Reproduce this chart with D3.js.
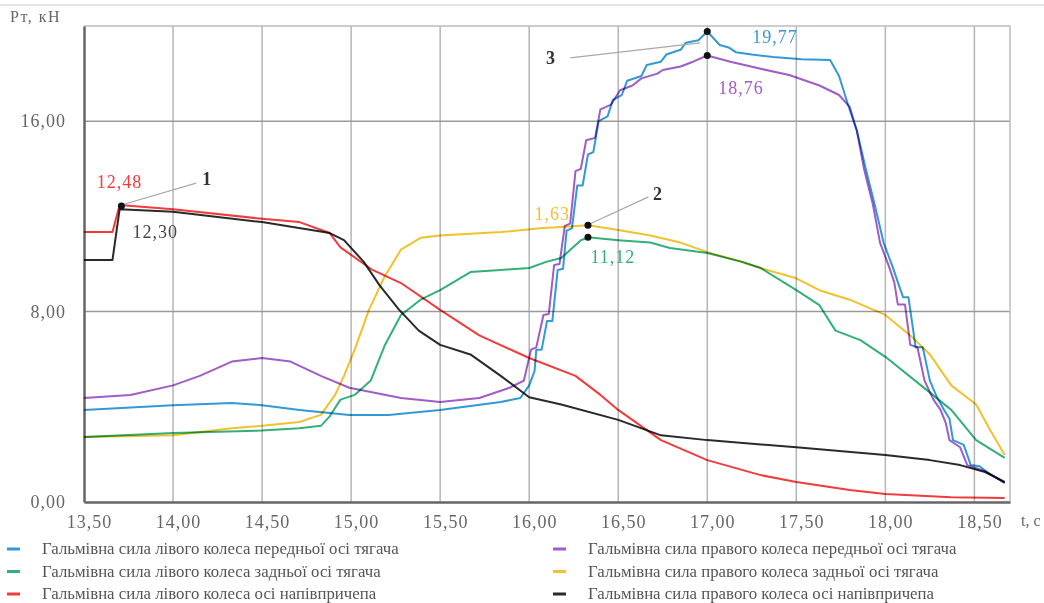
<!DOCTYPE html>
<html>
<head>
<meta charset="utf-8">
<script src="https://cdn.jsdelivr.net/npm/d3@7"></script>
<style>
  body { margin: 0; background: #fff; }
  text { font-family: "Liberation Serif", "DejaVu Serif", serif; }
</style>
</head>
<body>
<div id="chart"></div>
<script>
// braking force data (t in s, Pt in kN)
const blueT = [13.5, 14.0, 14.33, 14.5, 14.71, 14.99, 15.21, 15.5, 15.84, 15.95,
  16.0, 16.03, 16.04, 16.07, 16.1, 16.13, 16.16, 16.19, 16.21, 16.24, 16.27, 16.3, 16.33, 16.36,
  16.39, 16.44, 16.47, 16.52, 16.55, 16.63, 16.66, 16.74, 16.77, 16.85, 16.88, 16.95, 17.0,
  17.07, 17.12, 17.16, 17.25, 17.37, 17.53, 17.69,
  17.74, 17.79, 17.84, 17.89, 17.94, 17.99, 18.04, 18.07, 18.1, 18.13, 18.17, 18.21, 18.25,
  18.29, 18.33, 18.36, 18.38, 18.44, 18.48, 18.53, 18.57, 18.67];
const blueV = [3.87, 4.07, 4.16, 4.07, 3.87, 3.66, 3.66, 3.87, 4.2, 4.37,
  4.9, 5.5, 6.4, 6.4, 7.6, 7.6, 9.75, 9.8, 11.4, 11.5, 13.3, 13.3, 14.6, 14.7,
  16.0, 16.2, 16.9, 17.1, 17.7, 17.9, 18.36, 18.5, 18.8, 19.0, 19.3, 19.4, 19.77,
  19.2, 19.1, 18.9, 18.8, 18.7, 18.6, 18.57,
  17.9, 16.7, 15.6, 14.0, 12.5, 10.9, 9.9, 9.24, 8.6, 8.6, 6.5, 6.5, 5.1,
  4.4, 3.87, 3.5, 2.6, 2.4, 1.55, 1.5, 1.26, 0.8];

const purpleT = [13.5, 13.76, 14.0, 14.15, 14.33, 14.5, 14.66, 14.83, 14.99, 15.28, 15.5, 15.72, 15.89, 15.97,
  16.01, 16.04, 16.08, 16.11, 16.14, 16.17, 16.2, 16.23, 16.26, 16.29, 16.32, 16.37, 16.4, 16.46,
  16.51, 16.58, 16.63, 16.72, 16.75, 16.85, 16.92, 17.0, 17.13, 17.3, 17.46, 17.63, 17.74,
  17.8, 17.84, 17.88, 17.93, 17.97, 18.02, 18.05, 18.07, 18.11, 18.14, 18.18, 18.22, 18.27,
  18.31, 18.34, 18.36, 18.42, 18.46, 18.52, 18.57, 18.67];
const purpleV = [4.37, 4.5, 4.9, 5.3, 5.9, 6.05, 5.9, 5.3, 4.8, 4.37, 4.2, 4.37, 4.8, 5.1,
  6.4, 6.5, 7.86, 7.9, 9.96, 10.0, 11.6, 11.7, 13.9, 14.0, 15.2, 15.3, 16.5, 16.7,
  17.3, 17.5, 17.8, 18.0, 18.15, 18.3, 18.5, 18.76, 18.5, 18.2, 17.94, 17.5, 17.1,
  16.6, 15.6, 14.0, 12.5, 10.9, 9.9, 9.24, 8.3, 8.3, 6.6, 6.5, 5.1, 4.3,
  3.87, 3.3, 2.6, 2.3, 1.55, 1.4, 1.26, 0.8];

const greenT = [13.5, 14.0, 14.5, 14.71, 14.83, 14.88, 14.94, 15.02, 15.11, 15.19, 15.28, 15.39, 15.5,
  15.67, 15.84, 16.0, 16.1, 16.18, 16.29, 16.33, 16.5, 16.68, 16.79, 17.0, 17.19, 17.3, 17.5,
  17.63, 17.72, 17.86, 18.0, 18.2, 18.37, 18.51, 18.67];
const greenV = [2.73, 2.9, 3.0, 3.1, 3.2, 3.6, 4.3, 4.5, 5.1, 6.6, 7.86, 8.5, 8.9,
  9.66, 9.75, 9.83, 10.1, 10.25, 11.0, 11.12, 11.0, 10.9, 10.67, 10.46, 10.1, 9.83, 8.9,
  8.27, 7.2, 6.8, 6.1, 4.9, 3.87, 2.6, 1.85];

const yellowT = [13.5, 14.0, 14.33, 14.5, 14.71, 14.83, 14.91, 14.96, 15.02, 15.1, 15.19, 15.28, 15.39,
  15.5, 15.84, 16.06, 16.18, 16.33, 16.5, 16.68, 16.85, 17.0, 17.19, 17.3, 17.5, 17.63, 17.8,
  18.0, 18.14, 18.25, 18.37, 18.51, 18.59, 18.67];
const yellowV = [2.73, 2.8, 3.1, 3.2, 3.36, 3.66, 4.5, 5.3, 6.4, 8.07, 9.5, 10.6, 11.1,
  11.2, 11.34, 11.5, 11.55, 11.63, 11.43, 11.2, 10.9, 10.5, 10.1, 9.83, 9.4, 8.9, 8.5,
  7.86, 7.0, 6.2, 4.9, 4.1, 3.0, 1.97];

const redT = [13.5, 13.66, 13.7, 14.0, 14.5, 14.71, 14.88, 14.94, 15.12, 15.28, 15.5, 15.72, 16.0,
  16.26, 16.4, 16.5, 16.74, 17.0, 17.3, 17.5, 17.8, 18.0, 18.37, 18.67];
const redV = [11.34, 11.34, 12.48, 12.3, 11.9, 11.76, 11.3, 10.7, 9.75, 9.2, 8.07, 7.0, 6.05,
  5.3, 4.5, 3.87, 2.6, 1.76, 1.13, 0.84, 0.5, 0.34, 0.2, 0.17];

const blackT = [13.5, 13.66, 13.7, 14.0, 14.5, 14.88, 14.96, 15.07, 15.16, 15.27, 15.38, 15.5, 15.67,
  15.84, 16.0, 16.18, 16.5, 16.74, 17.0, 17.5, 18.0, 18.25, 18.42, 18.56, 18.67];
const blackV = [10.17, 10.17, 12.3, 12.2, 11.76, 11.3, 11.0, 10.1, 9.1, 8.07, 7.2, 6.6, 6.2,
  5.3, 4.4, 4.1, 3.45, 2.8, 2.6, 2.3, 1.97, 1.76, 1.55, 1.26, 0.84];

const xTicks = [13.5, 14.0, 14.5, 15.0, 15.5, 16.0, 16.5, 17.0, 17.5, 18.0, 18.5];
const yTicks = [0, 8, 16];

const legendNames = [
  "Гальмівна сила лівого колеса передньої осі тягача",
  "Гальмівна сила лівого колеса задньої осі тягача",
  "Гальмівна сила лівого колеса осі напівпричепа",
  "Гальмівна сила правого колеса передньої осі тягача",
  "Гальмівна сила правого колеса задньої осі тягача",
  "Гальмівна сила правого колеса осі напівпричепа",
];

// marked points: 1, 2, 3
const markT = [13.71, 16.33, 16.33, 17.0, 17.0];
const markV = [12.44, 11.63, 11.12, 19.77, 18.76];

const colors = {
  blue: "#3399d6",
  green: "#33b07a",
  red: "#f03c3c",
  purple: "#a05cc8",
  yellow: "#f2c12e",
  black: "#2a2a2a",
};

const series = [
  { t: blueT, v: blueV, color: colors.blue },
  { t: greenT, v: greenV, color: colors.green },
  { t: redT, v: redV, color: colors.red },
  { t: purpleT, v: purpleV, color: colors.purple },
  { t: yellowT, v: yellowV, color: colors.yellow },
  { t: blackT, v: blackV, color: colors.black },
];

const width = 1044, height = 603;
const margin = { top: 26, right: 34, bottom: 101, left: 84 };

const svg = d3.select("#chart").append("svg")
  .attr("width", width)
  .attr("height", height);

const x = d3.scaleLinear().domain([13.5, 18.7]).range([margin.left, width - margin.right]);
const y = d3.scaleLinear().domain([0, 20]).range([height - margin.bottom, margin.top]);
const fmt = (d) => d3.format(".2f")(d).replace(".", ",");

// thin frame line at the very top of the picture
svg.append("line")
  .attr("x1", 0).attr("x2", width).attr("y1", 5).attr("y2", 5)
  .attr("stroke", "#ddd").attr("stroke-width", 1.5);

// grid
svg.append("g")
  .selectAll("line")
  .data(xTicks.slice(1))
  .join("line")
  .attr("x1", (d) => x(d)).attr("x2", (d) => x(d))
  .attr("y1", y(20)).attr("y2", y(0))
  .attr("stroke", "#b5b5b5").attr("stroke-width", 1.5);

svg.append("g")
  .selectAll("line")
  .data(yTicks.slice(1))
  .join("line")
  .attr("x1", x(13.5)).attr("x2", x(18.7))
  .attr("y1", (d) => y(d)).attr("y2", (d) => y(d))
  .attr("stroke", "#9a9a9a").attr("stroke-width", 1.5);

// top / right border
svg.append("path")
  .attr("d", `M${x(13.5)},${y(20)}H${x(18.7)}V${y(0)}`)
  .attr("fill", "none")
  .attr("stroke", "#bdbdbd").attr("stroke-width", 1.5);

// axes
const xAxis = d3.axisBottom(x).tickValues(xTicks).tickSize(0).tickFormat(fmt);
const yAxis = d3.axisLeft(y).tickValues(yTicks).tickSize(0).tickFormat(fmt);

const gx = svg.append("g")
  .attr("transform", `translate(0,${y(0)})`)
  .call(xAxis);
gx.select(".domain").attr("stroke", "#666").attr("stroke-width", 2.5);
gx.selectAll("text")
  .attr("dy", 0)
  .attr("dx", 5)
  .attr("y", 26)
  .style("font-size", "18px")
  .style("letter-spacing", "1px")
  .style("fill", "#666");

const gy = svg.append("g")
  .attr("transform", `translate(${x(13.5)},0)`)
  .call(yAxis);
gy.select(".domain").attr("stroke", "#666").attr("stroke-width", 2.5);
gy.selectAll("text")
  .attr("x", -18)
  .style("font-size", "18px")
  .style("letter-spacing", "1px")
  .style("fill", "#666");

svg.append("text")
  .attr("x", 10).attr("y", 22)
  .style("font-size", "16px")
  .style("letter-spacing", "1.5px")
  .style("fill", "#666")
  .text("Рт, кН");

svg.append("text")
  .attr("x", 1021).attr("y", 526)
  .style("font-size", "16px")
  .style("fill", "#666")
  .text("t, c");

// lines
const line = d3.line()
  .x((d) => x(d[0]))
  .y((d) => y(d[1]));

svg.append("g")
  .selectAll("path")
  .data(series)
  .join("path")
  .attr("d", (s) => line(d3.zip(s.t, s.v)))
  .attr("fill", "none")
  .attr("stroke", (s) => s.color)
  .attr("stroke-width", 2)
  .attr("stroke-linejoin", "round")
  .style("mix-blend-mode", "multiply");

// leader lines for marks 1, 2, 3
const leaders = [
  [[13.71, 12.48], [14.13, 13.4]],
  [[16.34, 11.68], [16.67, 12.82]],
  [[16.23, 18.66], [16.96, 19.29]],
];
svg.append("g")
  .selectAll("line")
  .data(leaders)
  .join("line")
  .attr("x1", (d) => x(d[0][0])).attr("y1", (d) => y(d[0][1]))
  .attr("x2", (d) => x(d[1][0])).attr("y2", (d) => y(d[1][1]))
  .attr("stroke", "#a8a8a8").attr("stroke-width", 1.2);

svg.append("g")
  .selectAll("circle")
  .data(d3.zip(markT, markV))
  .join("circle")
  .attr("cx", (d) => x(d[0]))
  .attr("cy", (d) => y(d[1]))
  .attr("r", 3.5)
  .attr("fill", "#111");

// value labels
const labels = [
  { text: "12,48", t: 13.7, v: 13.19, color: "#f03c3c" },
  { text: "12,30", t: 13.9, v: 11.09, color: "#444" },
  { text: "1", t: 14.19, v: 13.32, color: "#333" },
  { text: "1,63", t: 16.13, v: 11.85, color: "#f2c12e" },
  { text: "2", t: 16.72, v: 12.69, color: "#333" },
  { text: "11,12", t: 16.47, v: 10.04, color: "#33b07a" },
  { text: "3", t: 16.12, v: 18.4, color: "#333" },
  { text: "19,77", t: 17.38, v: 19.29, color: "#3399d6" },
  { text: "18,76", t: 17.19, v: 17.14, color: "#a05cc8" },
];
svg.append("g")
  .selectAll("text")
  .data(labels)
  .join("text")
  .attr("x", (d) => x(d.t))
  .attr("y", (d) => y(d.v))
  .attr("text-anchor", "middle")
  .style("font-size", "18px")
  .style("letter-spacing", (d) => (d.text.length == 1 ? "0px" : "1px"))
  .style("font-weight", (d) => (d.text.length == 1 ? "bold" : "normal"))
  .style("fill", (d) => d.color)
  .text((d) => d.text);

// legend, two columns of three
const legendColors = [colors.blue, colors.green, colors.red, colors.purple, colors.yellow, colors.black];
const legend = svg.append("g");
const items = legend.selectAll("g")
  .data(legendNames)
  .join("g")
  .attr("transform", (d, i) => `translate(${i < 3 ? 7 : 553},${549 + (i % 3) * 22.5})`);

items.append("line")
  .attr("x1", 0).attr("x2", 13)
  .attr("stroke", (d, i) => legendColors[i])
  .attr("stroke-width", 3);

const labelsText = items.append("text")
  .attr("x", 35)
  .attr("y", 5)
  .style("font-size", "16px")
  .style("fill", "#555")
  .text((d) => d);

// squeeze the legend text a bit like the original
const w0 = labelsText.nodes()[0].getComputedTextLength();
const k = 357 / w0;
labelsText.attr("transform", `translate(35,0) scale(${k},1) translate(-35,0)`);
</script>
</body>
</html>
